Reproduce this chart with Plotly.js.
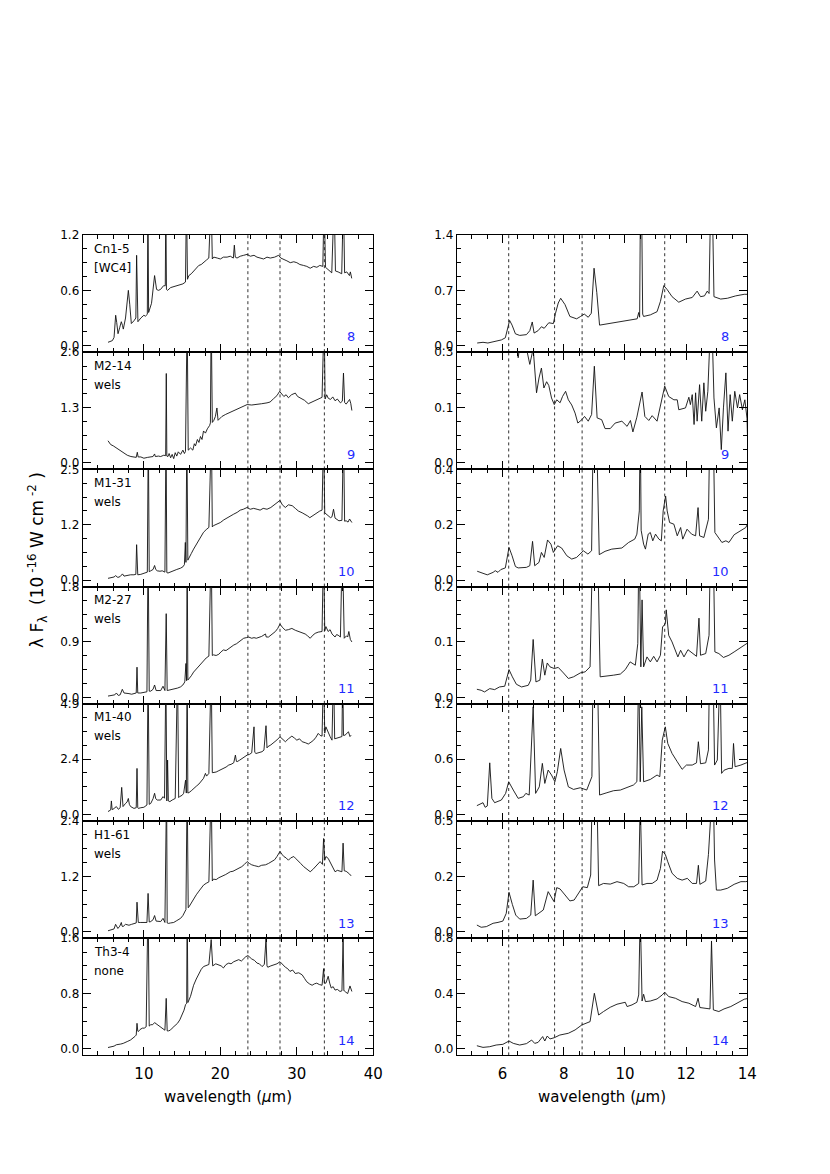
<!DOCTYPE html>
<html>
<head>
<meta charset="utf-8">
<script src="https://cdn.plot.ly/plotly-3.0.1.min.js"></script>
<style>
  body { margin: 0; background: #fff; }
  #chart { width: 830px; height: 1174px; }
</style>
</head>
<body>
<div id="chart"></div>
<script>
// panel text
const objectNames = ['Cn1-5', 'M2-14', 'M1-31', 'M2-27', 'M1-40', 'H1-61', 'Th3-4'];
const objectTypes = ['[WC4]', 'wels', 'wels', 'wels', 'wels', 'wels', 'none'];
const panelLabels = ['8', '9', '10', '11', '12', '13', '14'];

// y axis tops and tick labels, left (5-38 um) and right (5-14 um) columns
const longTop = [1.2, 2.6, 2.5, 1.8, 4.9, 2.4, 1.6];
const longTicks = [['0.0', '0.6', '1.2'], ['0.0', '1.3', '2.6'], ['0.0', '1.2', '2.5'], ['0.0', '0.9', '1.8'],
  ['0.0', '2.4', '4.9'], ['0.0', '1.2', '2.4'], ['0.0', '0.8', '1.6']];
const shortTop = [1.4, 0.3, 0.4, 0.2, 1.2, 0.5, 0.8];
const shortTicks = [['0.0', '0.7', '1.4'], ['0.0', '0.1', '0.3'], ['0.0', '0.2', '0.4'], ['0.0', '0.1', '0.2'],
  ['0.0', '0.6', '1.2'], ['0.0', '0.2', '0.5'], ['0.0', '0.4', '0.8']];

// dotted reference wavelengths
const longMarks = [23.6, 27.8, 33.6];
const shortMarks = [6.2, 7.7, 8.6, 11.3];

// spectra: [wavelength (um), lambda F_lambda]
const long8 = [[5.31,0.037],[5.6,0.05],[5.88,0.055],[6.1,0.09],[6.31,0.33],[6.45,0.25],[6.62,0.13],[6.85,0.2],[7.05,0.26],[7.2,0.22],[7.31,0.18],[7.6,0.3],[7.97,0.6],[8.15,0.45],[8.36,0.24],[8.7,0.27],[8.95,0.3],[9.05,0.98],[9.15,0.5],[9.22,0.26],[9.6,0.3],[10.0,0.33],[10.2,0.32],[10.45,0.34],[10.53,1.6],[10.62,0.36],[11.0,0.46],[11.4,0.76],[11.66,0.61],[11.9,0.6],[12.18,0.61],[12.57,0.65],[12.8,0.65],[12.87,1.6],[12.95,0.61],[13.1,0.6],[13.5,0.63],[13.9,0.64],[14.3,0.65],[14.79,0.66],[15.1,0.67],[15.44,0.69],[15.57,1.6],[15.7,0.72],[15.88,0.76],[16.2,0.78],[16.53,0.81],[16.9,0.85],[17.18,0.87],[17.5,0.88],[17.83,0.9],[18.2,0.93],[18.49,0.95],[18.79,1.6],[18.95,0.94],[19.14,0.96],[19.6,0.95],[20.0,0.94],[20.4,0.96],[20.88,0.96],[21.3,0.97],[21.7,0.95],[21.83,1.09],[21.95,0.96],[22.18,0.95],[22.6,0.97],[23.05,0.98],[23.5,0.99],[23.92,0.97],[24.4,0.98],[24.79,0.96],[25.2,0.95],[25.66,0.94],[26.1,0.96],[26.53,0.95],[27.1,0.96],[27.62,0.98],[27.9,0.95],[28.27,0.94],[28.7,0.92],[29.14,0.9],[29.6,0.91],[30.0,0.9],[30.4,0.88],[30.88,0.87],[31.3,0.86],[31.75,0.84],[32.2,0.86],[32.62,0.85],[33.0,0.87],[33.4,0.86],[33.57,1.6],[33.75,0.85],[34.1,0.82],[34.57,0.79],[34.88,1.6],[35.05,0.81],[35.4,0.8],[35.87,0.78],[36.09,1.6],[36.25,0.79],[36.53,0.8],[36.88,0.76],[37.0,0.8],[37.18,0.73]];
const long9 = [[5.31,0.52],[5.66,0.43],[6.0,0.4],[6.31,0.36],[6.6,0.32],[6.97,0.27],[7.4,0.22],[7.83,0.18],[8.3,0.15],[8.7,0.14],[9.0,0.13],[9.14,0.25],[9.25,0.14],[9.6,0.14],[10.0,0.11],[10.5,0.13],[10.9,0.14],[11.2,0.15],[11.4,0.21],[11.5,0.15],[11.9,0.16],[12.2,0.15],[12.6,0.18],[12.85,0.17],[12.93,2.1],[13.0,0.16],[13.15,0.15],[13.3,0.22],[13.5,0.12],[13.7,0.2],[13.9,0.1],[14.1,0.24],[14.3,0.16],[14.5,0.26],[14.8,0.2],[15.1,0.3],[15.3,0.22],[15.44,0.27],[15.66,3.5],[15.8,0.3],[16.1,0.35],[16.4,0.3],[16.6,0.45],[16.75,0.4],[17.0,0.55],[17.2,0.48],[17.4,0.62],[17.6,0.55],[17.8,0.75],[18.05,0.7],[18.3,0.8],[18.6,0.88],[18.7,0.94],[18.8,3.5],[18.95,0.95],[19.15,1.0],[19.35,1.09],[19.55,1.29],[19.7,1.0],[20.2,1.09],[20.7,1.14],[21.3,1.19],[21.7,1.22],[22.2,1.25],[22.8,1.31],[23.5,1.37],[24.1,1.36],[24.8,1.37],[25.4,1.39],[26.1,1.41],[26.5,1.43],[26.97,1.51],[27.4,1.58],[27.75,1.68],[28.0,1.62],[28.3,1.56],[28.6,1.6],[28.9,1.53],[29.3,1.6],[29.8,1.64],[30.1,1.56],[30.45,1.53],[31.0,1.47],[31.5,1.39],[31.9,1.42],[32.4,1.46],[32.9,1.5],[33.3,1.54],[33.57,3.5],[33.7,1.5],[33.9,1.6],[34.1,1.52],[34.4,1.49],[34.7,1.55],[35.0,1.46],[35.3,1.5],[35.7,1.41],[35.95,1.45],[36.1,2.11],[36.25,1.42],[36.45,1.38],[36.7,1.44],[36.9,1.49],[37.05,1.4],[37.2,1.23]];
const long10 = [[5.31,0.04],[5.6,0.05],[5.9,0.05],[6.1,0.07],[6.3,0.1],[6.6,0.06],[6.9,0.08],[7.2,0.14],[7.4,0.09],[7.6,0.1],[7.9,0.11],[8.27,0.12],[8.7,0.12],[8.95,0.13],[9.05,0.8],[9.15,0.14],[9.2,0.12],[9.6,0.13],[10.0,0.15],[10.45,0.18],[10.58,3.4],[10.7,0.19],[10.9,0.21],[11.2,0.24],[11.4,0.33],[11.55,0.24],[11.75,0.21],[12.1,0.2],[12.4,0.21],[12.6,0.2],[12.75,0.18],[12.9,3.4],[13.0,0.17],[13.15,0.16],[13.5,0.19],[13.9,0.21],[14.3,0.24],[14.8,0.27],[15.1,0.3],[15.3,0.35],[15.42,0.85],[15.5,0.4],[15.62,3.4],[15.75,0.45],[15.9,0.51],[16.2,0.6],[16.5,0.7],[16.85,0.8],[17.2,0.9],[17.5,0.99],[17.8,1.08],[18.15,1.14],[18.5,1.19],[18.83,3.4],[18.95,1.2],[19.1,1.23],[19.5,1.26],[20.0,1.3],[20.45,1.36],[20.9,1.41],[21.3,1.45],[21.75,1.49],[22.2,1.53],[22.6,1.58],[23.0,1.6],[23.5,1.64],[23.9,1.6],[24.35,1.62],[24.8,1.6],[25.2,1.58],[25.6,1.62],[26.1,1.6],[26.6,1.64],[27.0,1.69],[27.4,1.73],[27.8,1.8],[28.1,1.7],[28.5,1.64],[28.9,1.7],[29.4,1.68],[29.8,1.62],[30.2,1.56],[30.7,1.52],[31.1,1.49],[31.4,1.45],[31.7,1.41],[32.1,1.46],[32.6,1.53],[33.0,1.56],[33.3,1.58],[33.5,3.4],[33.65,1.52],[33.9,1.49],[34.2,1.45],[34.4,1.41],[34.6,1.43],[34.8,1.6],[35.0,1.4],[35.2,1.38],[35.5,1.34],[35.9,1.35],[36.1,3.4],[36.25,1.33],[36.45,1.34],[36.7,1.31],[36.9,1.38],[37.2,1.3]];
const long11 = [[5.31,0.02],[5.6,0.025],[5.88,0.03],[6.2,0.04],[6.4,0.07],[6.66,0.03],[6.9,0.04],[7.18,0.13],[7.4,0.07],[7.7,0.06],[8.05,0.06],[8.4,0.05],[8.7,0.06],[9.0,0.07],[9.1,0.49],[9.2,0.07],[9.6,0.07],[10.0,0.08],[10.4,0.09],[10.55,2.5],[10.7,0.1],[10.9,0.1],[11.2,0.13],[11.4,0.2],[11.6,0.11],[12.2,0.11],[12.5,0.18],[12.75,0.11],[12.92,1.36],[13.05,0.11],[13.5,0.12],[13.9,0.13],[14.4,0.15],[14.8,0.17],[15.1,0.2],[15.35,0.25],[15.5,0.55],[15.58,0.27],[15.66,2.5],[15.75,0.28],[15.9,0.3],[16.2,0.35],[16.5,0.41],[16.85,0.46],[17.2,0.52],[17.5,0.56],[17.8,0.6],[18.15,0.64],[18.5,0.67],[18.8,2.5],[18.95,0.68],[19.1,0.69],[19.45,0.68],[19.8,0.7],[20.1,0.74],[20.4,0.77],[20.75,0.76],[21.1,0.79],[21.4,0.83],[21.75,0.85],[22.1,0.87],[22.4,0.9],[22.7,0.93],[23.05,0.96],[23.4,0.97],[23.7,0.98],[24.1,0.96],[24.4,0.97],[24.7,0.96],[25.0,0.97],[25.4,0.99],[25.9,1.03],[26.0,0.98],[26.3,0.98],[26.7,1.02],[27.2,1.07],[27.5,1.12],[27.8,1.19],[28.1,1.14],[28.5,1.09],[28.9,1.1],[29.35,1.12],[29.8,1.09],[30.2,1.07],[30.6,1.05],[31.1,1.03],[31.4,1.0],[31.75,0.96],[32.1,1.01],[32.4,1.04],[32.8,1.06],[33.3,1.07],[33.5,2.5],[33.65,1.08],[33.8,1.15],[34.1,1.07],[34.35,1.1],[34.6,1.03],[35.0,0.98],[35.2,1.02],[35.4,1.01],[35.7,0.98],[35.95,2.5],[36.1,1.0],[36.2,0.96],[36.5,1.0],[36.65,0.98],[36.8,1.07],[37.0,0.94],[37.2,0.9]];
const long12 = [[5.31,0.13],[5.55,0.18],[5.66,0.2],[5.75,0.6],[5.85,0.22],[5.96,0.23],[6.2,0.3],[6.4,0.35],[6.66,0.23],[6.9,0.3],[7.1,1.2],[7.2,0.4],[7.27,0.35],[7.6,0.49],[7.8,0.55],[7.97,0.71],[8.1,0.45],[8.27,0.35],[8.5,0.3],[8.7,0.27],[9.0,0.3],[9.1,2.04],[9.2,0.3],[9.27,0.27],[9.6,0.3],[10.0,0.32],[10.4,0.42],[10.55,6.5],[10.7,0.45],[10.9,0.49],[11.2,0.7],[11.4,0.94],[11.55,0.7],[11.75,0.64],[12.2,0.64],[12.5,0.79],[12.7,0.72],[12.88,6.5],[13.0,0.6],[13.1,2.41],[13.2,0.6],[13.4,0.57],[13.7,0.64],[14.1,0.71],[14.4,6.5],[14.55,0.75],[14.66,0.79],[15.0,0.85],[15.2,0.94],[15.45,1.52],[15.55,0.95],[15.66,6.5],[15.75,0.95],[15.9,0.97],[16.2,1.05],[16.5,1.16],[16.85,1.25],[17.2,1.35],[17.5,1.47],[17.8,1.6],[18.05,1.82],[18.2,1.7],[18.5,1.82],[18.8,6.5],[18.95,1.85],[19.1,1.85],[19.45,1.88],[19.8,1.94],[20.1,1.98],[20.4,2.04],[20.75,2.1],[21.1,2.19],[21.4,2.22],[21.75,2.29],[21.97,2.63],[22.1,2.35],[22.2,2.34],[22.5,2.4],[22.8,2.48],[23.15,2.55],[23.5,2.63],[23.8,2.66],[24.1,2.73],[24.4,3.88],[24.5,2.75],[24.66,2.7],[25.0,2.74],[25.45,2.78],[25.7,2.85],[25.97,3.93],[26.1,2.95],[26.2,3.0],[26.6,3.08],[27.0,3.18],[27.4,3.3],[27.8,3.44],[28.1,3.35],[28.5,3.22],[28.9,3.35],[29.35,3.47],[29.7,3.38],[30.0,3.29],[30.35,3.35],[30.7,3.22],[31.1,3.18],[31.5,3.12],[31.85,3.2],[32.2,3.29],[32.5,3.42],[32.8,3.59],[33.05,3.5],[33.3,3.47],[33.5,6.5],[33.65,3.6],[33.8,3.88],[34.0,3.7],[34.1,3.59],[34.35,3.45],[34.6,3.29],[34.8,6.5],[34.95,3.35],[35.1,3.37],[35.4,3.4],[35.65,3.44],[35.9,3.45],[36.0,6.5],[36.1,3.5],[36.3,3.51],[36.5,3.6],[36.75,3.66],[36.95,3.45],[37.1,3.51]];
const long13 = [[5.31,0.02],[5.6,0.03],[5.88,0.04],[6.1,0.06],[6.3,0.16],[6.45,0.1],[6.6,0.07],[6.85,0.12],[7.05,0.2],[7.15,0.12],[7.27,0.11],[7.6,0.16],[8.05,0.14],[8.4,0.16],[8.7,0.18],[9.0,0.19],[9.1,0.64],[9.2,0.2],[9.27,0.2],[9.6,0.2],[10.0,0.2],[10.4,0.2],[10.55,0.83],[10.7,0.21],[10.9,0.22],[11.2,0.26],[11.4,0.35],[11.6,0.23],[12.2,0.22],[12.5,0.29],[12.75,0.2],[12.97,3.2],[13.05,0.19],[13.2,0.18],[13.5,0.19],[13.9,0.2],[14.3,0.24],[14.8,0.29],[15.1,0.35],[15.35,0.43],[15.5,0.48],[15.66,3.2],[15.8,0.52],[15.9,0.54],[16.2,0.63],[16.5,0.72],[16.85,0.8],[17.2,0.88],[17.5,0.95],[17.8,1.01],[18.15,1.05],[18.5,1.08],[18.8,3.2],[18.95,1.1],[19.1,1.14],[19.45,1.13],[19.8,1.17],[20.25,1.2],[20.7,1.24],[21.0,1.27],[21.3,1.3],[21.65,1.31],[22.0,1.34],[22.4,1.38],[22.8,1.41],[23.15,1.46],[23.5,1.52],[23.8,1.48],[24.1,1.45],[24.5,1.43],[25.0,1.41],[25.4,1.44],[25.9,1.45],[26.3,1.48],[26.75,1.52],[27.1,1.56],[27.4,1.63],[27.8,1.74],[28.05,1.68],[28.3,1.63],[28.6,1.6],[28.9,1.55],[29.2,1.6],[29.6,1.63],[29.9,1.58],[30.2,1.52],[30.5,1.48],[30.9,1.41],[31.3,1.36],[31.75,1.3],[32.1,1.35],[32.4,1.41],[32.75,1.46],[33.05,1.52],[33.35,1.46],[33.5,2.02],[33.65,1.55],[33.8,1.63],[34.1,1.59],[34.35,1.5],[34.6,1.41],[34.8,1.35],[35.0,1.3],[35.3,1.33],[35.65,1.32],[35.9,1.3],[36.05,1.92],[36.2,1.32],[36.45,1.31],[36.65,1.29],[36.9,1.25],[37.1,1.21]];
const long14 = [[5.31,0.02],[5.6,0.025],[5.88,0.03],[6.1,0.04],[6.4,0.06],[6.7,0.06],[6.97,0.07],[7.3,0.08],[7.6,0.09],[7.9,0.11],[8.27,0.13],[8.55,0.15],[8.83,0.18],[9.0,0.2],[9.1,0.37],[9.2,0.26],[9.27,0.25],[9.5,0.28],[9.8,0.3],[10.05,0.3],[10.3,0.32],[10.55,2.2],[10.7,0.33],[10.9,0.35],[11.15,0.35],[11.4,0.38],[11.65,0.36],[11.9,0.35],[12.2,0.32],[12.5,0.29],[12.75,0.27],[12.92,0.73],[13.05,0.26],[13.2,0.26],[13.45,0.27],[13.7,0.3],[14.05,0.33],[14.4,0.37],[14.7,0.42],[15.0,0.49],[15.25,0.56],[15.45,0.64],[15.6,0.66],[15.66,2.2],[15.75,0.67],[15.8,0.68],[16.1,0.76],[16.3,0.84],[16.5,0.92],[16.85,1.01],[17.2,1.09],[17.5,1.15],[17.8,1.19],[18.15,1.21],[18.5,1.22],[18.8,1.58],[18.9,1.21],[19.0,1.2],[19.4,1.23],[19.8,1.21],[20.1,1.2],[20.4,1.17],[20.75,1.22],[21.1,1.24],[21.4,1.23],[21.75,1.26],[22.1,1.28],[22.4,1.29],[22.75,1.27],[23.05,1.31],[23.3,1.33],[23.6,1.35],[23.85,1.32],[24.1,1.3],[24.45,1.28],[24.8,1.24],[25.1,1.23],[25.45,1.19],[25.75,1.22],[25.97,1.59],[26.1,1.2],[26.2,1.18],[26.6,1.2],[27.0,1.21],[27.4,1.23],[27.8,1.26],[28.1,1.22],[28.5,1.18],[28.8,1.16],[29.1,1.12],[29.45,1.14],[29.8,1.09],[30.25,1.1],[30.7,1.07],[31.0,1.02],[31.3,0.97],[31.65,0.94],[32.0,0.92],[32.3,0.94],[32.6,0.95],[32.95,0.93],[33.3,0.92],[33.5,1.16],[33.6,0.95],[33.8,0.95],[34.1,1.05],[34.3,0.95],[34.5,0.88],[34.75,0.9],[35.0,0.85],[35.3,0.86],[35.65,0.83],[35.9,0.84],[36.05,1.59],[36.15,0.84],[36.2,0.84],[36.4,0.82],[36.65,0.8],[36.95,0.91],[37.2,0.83]];

const short8 = [[5.17,0.034],[5.36,0.043],[5.52,0.034],[5.74,0.056],[5.96,0.073],[6.09,0.1],[6.15,0.2],[6.23,0.32],[6.31,0.26],[6.42,0.15],[6.56,0.13],[6.78,0.14],[6.89,0.19],[6.97,0.3],[7.03,0.16],[7.16,0.19],[7.27,0.24],[7.36,0.22],[7.51,0.29],[7.66,0.28],[7.73,0.41],[7.82,0.54],[7.9,0.6],[8.04,0.52],[8.2,0.37],[8.42,0.34],[8.55,0.37],[8.67,0.4],[8.8,0.36],[8.9,0.41],[8.99,0.98],[9.08,0.67],[9.17,0.26],[9.46,0.28],[9.79,0.3],[10.12,0.32],[10.4,0.34],[10.45,0.42],[10.48,0.36],[10.51,2.0],[10.54,2.0],[10.58,0.4],[10.61,0.37],[10.83,0.39],[11.05,0.43],[11.16,0.56],[11.27,0.76],[11.38,0.71],[11.54,0.62],[11.76,0.55],[11.98,0.59],[12.2,0.61],[12.36,0.69],[12.47,0.62],[12.6,0.63],[12.69,0.69],[12.75,0.66],[12.81,2.0],[12.85,2.0],[12.91,0.62],[13.13,0.59],[13.35,0.6],[13.62,0.63],[13.9,0.65],[14.03,0.65]];
const short9 = [[6.45,0.33],[6.51,0.285],[6.57,0.32],[6.7,0.31],[6.78,0.31],[6.89,0.267],[7.0,0.31],[7.11,0.19],[7.19,0.23],[7.27,0.257],[7.35,0.203],[7.44,0.22],[7.51,0.21],[7.6,0.176],[7.69,0.158],[7.77,0.171],[7.88,0.163],[7.96,0.18],[8.06,0.194],[8.15,0.171],[8.26,0.157],[8.37,0.135],[8.46,0.108],[8.59,0.117],[8.68,0.126],[8.8,0.113],[8.91,0.131],[9.0,0.262],[9.09,0.122],[9.24,0.117],[9.35,0.093],[9.52,0.093],[9.68,0.108],[9.9,0.113],[10.07,0.099],[10.18,0.115],[10.26,0.084],[10.39,0.124],[10.56,0.192],[10.65,0.126],[10.78,0.115],[10.89,0.128],[11.05,0.113],[11.16,0.153],[11.3,0.208],[11.43,0.18],[11.6,0.171],[11.71,0.171],[11.76,0.144],[11.98,0.149],[12.09,0.178],[12.14,0.158],[12.2,0.185],[12.26,0.104],[12.31,0.19],[12.36,0.113],[12.44,0.212],[12.51,0.113],[12.58,0.217],[12.64,0.14],[12.71,0.194],[12.77,0.32],[12.86,0.33],[12.91,0.176],[12.99,0.095],[13.08,0.149],[13.15,0.036],[13.22,0.149],[13.3,0.244],[13.37,0.086],[13.44,0.185],[13.51,0.113],[13.59,0.194],[13.68,0.149],[13.75,0.185],[13.84,0.144],[13.92,0.171],[13.99,0.121],[14.03,0.004]];
const short10 = [[5.17,0.032],[5.36,0.025],[5.5,0.019],[5.69,0.028],[5.76,0.034],[5.85,0.028],[5.94,0.038],[6.09,0.044],[6.21,0.118],[6.31,0.088],[6.42,0.049],[6.51,0.044],[6.78,0.046],[6.89,0.052],[6.98,0.14],[7.05,0.052],[7.19,0.064],[7.27,0.1],[7.36,0.082],[7.47,0.145],[7.58,0.13],[7.66,0.1],[7.8,0.124],[7.93,0.116],[8.1,0.088],[8.26,0.076],[8.42,0.082],[8.64,0.106],[8.79,0.094],[8.91,0.106],[8.97,0.6],[9.06,0.6],[9.16,0.092],[9.35,0.104],[9.57,0.112],[9.9,0.116],[10.12,0.136],[10.32,0.148],[10.39,0.166],[10.47,0.25],[10.5,0.6],[10.53,0.18],[10.56,0.16],[10.61,0.13],[10.67,0.112],[10.76,0.166],[10.83,0.172],[10.91,0.142],[11.0,0.166],[11.11,0.148],[11.19,0.142],[11.25,0.25],[11.33,0.304],[11.38,0.25],[11.46,0.208],[11.6,0.202],[11.71,0.16],[11.82,0.19],[11.89,0.148],[12.03,0.184],[12.18,0.166],[12.31,0.16],[12.39,0.262],[12.44,0.16],[12.58,0.154],[12.73,0.22],[12.78,0.6],[12.88,0.6],[12.94,0.172],[13.02,0.16],[13.17,0.136],[13.3,0.142],[13.4,0.136],[13.57,0.164],[13.79,0.178],[13.95,0.19],[14.03,0.208]];
const short11 = [[5.16,0.0145],[5.3,0.0127],[5.41,0.0097],[5.58,0.0157],[5.74,0.0139],[5.9,0.0187],[6.07,0.02],[6.21,0.05],[6.32,0.037],[6.45,0.0236],[6.62,0.0187],[6.84,0.0217],[6.92,0.031],[7.0,0.1045],[7.09,0.0278],[7.22,0.031],[7.3,0.069],[7.38,0.04],[7.46,0.062],[7.55,0.055],[7.69,0.052],[7.82,0.054],[7.99,0.044],[8.15,0.034],[8.32,0.037],[8.54,0.044],[8.7,0.046],[8.86,0.055],[8.97,0.35],[9.08,0.35],[9.19,0.037],[9.41,0.038],[9.63,0.04],[9.85,0.042],[10.01,0.05],[10.17,0.064],[10.34,0.058],[10.42,0.097],[10.46,0.3],[10.52,0.055],[10.56,0.176],[10.61,0.055],[10.72,0.073],[10.83,0.064],[10.94,0.074],[11.05,0.064],[11.16,0.076],[11.23,0.127],[11.32,0.133],[11.35,0.158],[11.43,0.112],[11.54,0.1],[11.65,0.085],[11.73,0.073],[11.82,0.085],[11.93,0.073],[12.06,0.086],[12.2,0.08],[12.34,0.074],[12.42,0.143],[12.47,0.076],[12.64,0.079],[12.75,0.112],[12.8,0.3],[12.88,0.3],[12.94,0.082],[13.07,0.079],[13.22,0.072],[13.4,0.076],[13.57,0.082],[13.73,0.088],[13.9,0.094],[14.06,0.1]];
const short12 = [[5.16,0.096],[5.3,0.114],[5.36,0.128],[5.43,0.078],[5.5,0.092],[5.58,0.56],[5.65,0.175],[5.74,0.128],[5.96,0.157],[6.1,0.229],[6.2,0.355],[6.35,0.265],[6.51,0.175],[6.68,0.193],[6.76,0.229],[6.87,0.211],[7.0,1.167],[7.08,0.229],[7.2,0.3],[7.3,0.554],[7.38,0.337],[7.49,0.482],[7.6,0.428],[7.71,0.355],[7.79,0.464],[7.9,0.716],[8.01,0.482],[8.15,0.3],[8.32,0.272],[8.54,0.29],[8.75,0.265],[8.92,0.41],[8.97,2.0],[9.08,2.0],[9.17,0.211],[9.41,0.236],[9.63,0.258],[9.85,0.265],[10.07,0.294],[10.28,0.32],[10.39,0.355],[10.45,1.6],[10.5,0.355],[10.55,1.167],[10.61,0.355],[10.83,0.38],[11.05,0.428],[11.14,0.41],[11.22,0.807],[11.32,0.95],[11.4,0.77],[11.54,0.662],[11.71,0.572],[11.87,0.49],[12.01,0.536],[12.2,0.536],[12.34,0.56],[12.4,0.789],[12.47,0.55],[12.64,0.56],[12.73,0.7],[12.78,2.0],[12.86,2.0],[12.93,0.536],[13.02,0.59],[13.11,1.6],[13.16,0.446],[13.24,0.48],[13.4,0.5],[13.51,0.5],[13.55,0.77],[13.6,0.518],[13.79,0.536],[13.95,0.56],[14.06,0.572]];
const short13 = [[5.16,0.03],[5.3,0.02],[5.47,0.023],[5.69,0.038],[5.85,0.042],[6.01,0.048],[6.12,0.083],[6.21,0.178],[6.32,0.123],[6.43,0.075],[6.56,0.057],[6.78,0.06],[6.92,0.075],[7.0,0.233],[7.07,0.072],[7.22,0.087],[7.33,0.098],[7.49,0.181],[7.6,0.158],[7.68,0.136],[7.77,0.199],[7.88,0.193],[8.04,0.166],[8.2,0.139],[8.34,0.143],[8.48,0.173],[8.62,0.203],[8.77,0.199],[8.88,0.256],[8.95,0.8],[9.06,0.8],[9.14,0.208],[9.3,0.218],[9.52,0.215],[9.74,0.226],[9.96,0.218],[10.12,0.203],[10.29,0.203],[10.45,0.218],[10.5,0.6],[10.56,0.211],[10.72,0.218],[10.89,0.218],[11.05,0.233],[11.16,0.286],[11.23,0.364],[11.32,0.349],[11.4,0.316],[11.54,0.264],[11.71,0.241],[11.87,0.233],[12.04,0.241],[12.2,0.218],[12.34,0.218],[12.4,0.3],[12.45,0.214],[12.64,0.229],[12.73,0.349],[12.8,0.7],[12.88,0.7],[12.93,0.324],[12.99,0.188],[13.13,0.188],[13.35,0.196],[13.57,0.214],[13.79,0.226],[13.95,0.226],[14.06,0.229]];
const short14 = [[5.16,0.023],[5.36,0.011],[5.58,0.016],[5.79,0.028],[6.01,0.033],[6.21,0.057],[6.35,0.04],[6.56,0.028],[6.78,0.038],[6.95,0.064],[7.05,0.04],[7.16,0.047],[7.31,0.089],[7.38,0.057],[7.46,0.093],[7.55,0.072],[7.69,0.081],[7.87,0.1],[8.15,0.113],[8.37,0.137],[8.59,0.173],[8.86,0.197],[9.0,0.402],[9.14,0.245],[9.3,0.27],[9.52,0.301],[9.74,0.323],[10.01,0.337],[10.07,0.306],[10.23,0.318],[10.39,0.337],[10.45,0.39],[10.5,1.0],[10.56,0.346],[10.61,0.395],[10.67,0.342],[10.83,0.346],[11.05,0.361],[11.22,0.39],[11.3,0.41],[11.43,0.378],[11.65,0.366],[11.87,0.342],[12.09,0.33],[12.31,0.306],[12.39,0.366],[12.45,0.299],[12.64,0.294],[12.78,0.289],[12.83,0.78],[12.89,0.282],[13.07,0.27],[13.24,0.289],[13.46,0.306],[13.68,0.33],[13.9,0.359],[14.06,0.366]];

const longSpectra = [long8, long9, long10, long11, long12, long13, long14];
const shortSpectra = [short8, short9, short10, short11, short12, short13, short14];

// page geometry in pixels
const W = 830, H = 1174;
const firstTop = 235, rowH = 117.2;
const font = 'DejaVu Sans, Liberation Sans, sans-serif';

const columns = [
  { left: 82.7, right: 373.3, range: [2, 40], dtick: 10, minor: 2, tops: longTop, ticks: longTicks,
    spectra: longSpectra, marks: longMarks, numRight: 357 },
  { left: 456.7, right: 747.3, range: [4.5, 14], dtick: 2, minor: 0.5, tops: shortTop, ticks: shortTicks,
    spectra: shortSpectra, marks: shortMarks, numRight: 730.5 }
];

const traces = [];
const shapes = [];
const annotations = [];
const layout = {
  width: W, height: H,
  margin: { l: 0, r: 0, t: 0, b: 0 },
  paper_bgcolor: '#fff', plot_bgcolor: 'rgba(0,0,0,0)',
  showlegend: false,
  font: { family: font, color: '#000' }
};

columns.forEach((col, c) => {
  for (let i = 0; i < 7; i++) {
    const n = c * 7 + i + 1;
    const sfx = n === 1 ? '' : String(n);
    const top = col.tops[i];
    const yTop = firstTop + i * rowH;
    const yBot = yTop + rowH;
    const pts = col.spectra[i];

    traces.push({
      x: pts.map(p => p[0]),
      y: pts.map(p => p[1]),
      xaxis: 'x' + sfx, yaxis: 'y' + sfx,
      type: 'scatter', mode: 'lines',
      line: { color: '#111', width: 0.9 },
      hoverinfo: 'skip'
    });

    layout['xaxis' + sfx] = {
      domain: [col.left / W, col.right / W],
      anchor: 'y' + sfx,
      range: col.range,
      tick0: 0, dtick: col.dtick,
      ticks: 'inside', ticklen: 8, tickwidth: 1, tickcolor: '#000',
      minor: { ticks: 'inside', dtick: col.minor, ticklen: 4, tickcolor: '#000' },
      showline: true, linecolor: '#000', linewidth: 1, mirror: 'ticks',
      showgrid: false, zeroline: false,
      showticklabels: i === 6,
      ticklabelstandoff: 5,
      tickfont: { size: 15, family: font }
    };

    const minorVals = [];
    for (let k = 1; k < 8; k++) minorVals.push(k * top / 8);
    layout['yaxis' + sfx] = {
      domain: [1 - yBot / H, 1 - yTop / H],
      anchor: 'x' + sfx,
      range: [-0.0587 * top, top],
      tickmode: 'array', tickvals: [0, top / 2, top], ticktext: col.ticks[i],
      ticks: 'inside', ticklen: 8, tickwidth: 1, tickcolor: '#000',
      minor: { ticks: 'inside', tickmode: 'array', tickvals: minorVals, ticklen: 4, tickcolor: '#000' },
      showline: true, linecolor: '#000', linewidth: 1, mirror: 'ticks',
      showgrid: false, zeroline: false,
      tickfont: { size: 12, family: font }
    };

    col.marks.forEach(m => {
      shapes.push({
        type: 'line', layer: 'below',
        xref: 'x' + sfx, yref: 'y' + sfx + ' domain',
        x0: m, x1: m, y0: 0, y1: 1,
        line: { color: '#333', width: 1, dash: 'dot' }
      });
    });

    if (c === 0) {
      annotations.push({
        xref: 'paper', yref: 'paper', x: 91.5 / W, y: 1 - (yTop + 13.5) / H,
        xanchor: 'left', yanchor: 'middle', showarrow: false,
        text: objectNames[i], font: { size: 12, family: font }
      });
      annotations.push({
        xref: 'paper', yref: 'paper', x: 91.5 / W, y: 1 - (yTop + 32.5) / H,
        xanchor: 'left', yanchor: 'middle', showarrow: false,
        text: objectTypes[i], font: { size: 12, family: font }
      });
    }
    annotations.push({
      xref: 'paper', yref: 'paper', x: col.numRight / W, y: 1 - (yTop + 102) / H,
      xanchor: 'right', yanchor: 'middle', showarrow: false,
      text: panelLabels[i], font: { size: 13, family: font, color: '#1f2bff' }
    });
  }
  annotations.push({
    xref: 'paper', yref: 'paper', x: (col.left + col.right) / 2 / W, y: 1 - 1097 / H,
    xanchor: 'center', yanchor: 'middle', showarrow: false,
    text: 'wavelength (<i>μ</i>m)', font: { size: 15, family: font }
  });
});

annotations.push({
  xref: 'paper', yref: 'paper', x: 38 / W, y: 1 - 560 / H,
  xanchor: 'center', yanchor: 'middle', showarrow: false, textangle: -90,
  text: 'λ F<sub>λ</sub>  (10<sup> -16</sup> W cm<sup> -2</sup> )', font: { size: 17, family: font }
});

layout.shapes = shapes;
layout.annotations = annotations;

Plotly.newPlot('chart', traces, layout, { staticPlot: true });
</script>
</body>
</html>
